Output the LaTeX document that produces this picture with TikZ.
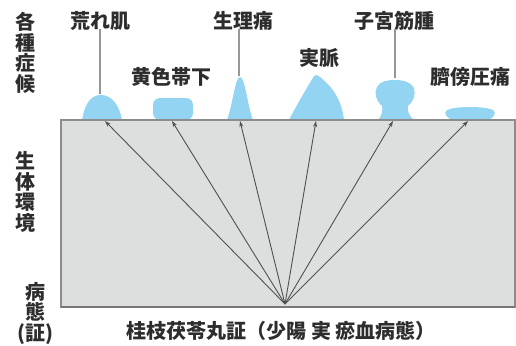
\documentclass[tikz,border=0pt]{standalone}
\usepackage{fontspec}
\newfontfamily\jp{Noto Sans CJK JP}
\usetikzlibrary{arrows.meta}
\definecolor{blob}{RGB}{146,212,242}
\definecolor{bgray}{RGB}{221,222,222}
\definecolor{edge}{RGB}{140,140,140}
\definecolor{txt}{RGB}{45,45,45}
\definecolor{arr}{RGB}{80,80,80}
\definecolor{lead}{RGB}{150,150,150}
\tikzset{
  lab/.style={font=\jp\bfseries\fontsize{20}{20.5}\selectfont, text=txt, inner sep=0pt, align=center},
  blobfill/.style={fill=blob},
  ray/.style={draw=arr, line width=0.9pt, -{Stealth[length=6pt,width=4pt]}},
  leader/.style={draw=lead, line width=1.2pt},
}
\begin{document}
\begin{tikzpicture}[x=1pt,y=-1pt]
\useasboundingbox (0,0) rectangle (516,345);
% body rectangle
\fill[bgray] (61,120) rectangle (515,307);
% blobs
\fill[blobfill] (82,120) .. controls (85,103) and (91,95) .. (101,95) .. controls (111,95) and (119,104) .. (122,120) -- cycle;
\fill[blobfill, rounded corners=7] (153,120) -- (153,98) -- (193,98) -- (193,120) -- cycle;
\fill[blobfill] (227,120) .. controls (233,104) and (235,77) .. (240,77) .. controls (245,77) and (247,104) .. (253,120) -- cycle;
\fill[blobfill] (289,120) .. controls (296,106) and (308,86) .. (314,76) .. controls (316,74) and (318,75) .. (320,77) .. controls (334,88) and (342,102) .. (344,120) -- cycle;
\fill[blobfill] (378,120) .. controls (382,116) and (383,110) .. (382,106) .. controls (376,101) and (374,92) .. (377,87) .. controls (380,81) and (388,80) .. (395,80) .. controls (403,80) and (411,82) .. (414,88) .. controls (416,95) and (413,102) .. (408,106) .. controls (407,111) and (409,116) .. (414,120) -- cycle;
\fill[blobfill] (453,120) .. controls (446,118) and (443,113) .. (447,110) .. controls (455,106) and (485,106) .. (493,110) .. controls (497,113) and (494,118) .. (488,120) -- cycle;
% rectangle border
\draw[edge, line width=1.3pt] (61,120) rectangle (515,307);
\draw[edge!85!black, line width=1.6pt] (61,307) -- (515,307);
% coordinates
\coordinate (apex) at (285,304);
\coordinate (t1) at (105,121);
\coordinate (t2) at (172,121);
\coordinate (t3) at (240,121);
\coordinate (t4) at (316,121);
\coordinate (t5) at (393,121);
\coordinate (t6) at (468,121);
\coordinate (b1top) at (100,94);
\coordinate (b3top) at (239,76);
\coordinate (b5top) at (395,78);
% rays
\foreach \t in {t1,t2,t3,t4,t5,t6} \draw[ray] (apex) -- (\t);
% top labels
\node[lab] (l1) at (100,21) {荒れ肌};
\node[lab] (l2) at (171,77) {黄色帯下};
\node[lab] (l3) at (243,21) {生理痛};
\node[lab] (l4) at (319,58) {実脈};
\node[lab] (l5) at (394,21) {子宮筋腫};
\node[lab] (l6) at (470,77) {臍傍圧痛};
\draw[leader] ([yshift=2pt]l1.south -| b1top) -- (b1top);
\draw[leader] ([yshift=2pt]l3.south -| b3top) -- (b3top);
\draw[leader] ([yshift=2pt]l5.south -| b5top) -- (b5top);
% side labels
\node[lab] (s1) at (25,53) {各\\種\\症\\候};
\node[lab] (s2) at (25,192) {生\\体\\環\\境};
\node[lab] (s3) at (35,313) {病\\態\\(証)};
% bottom label
\node[lab] (bot) at (281,331) {桂枝茯苓丸証（少陽 実 瘀血病態）};
\end{tikzpicture}
\end{document}
